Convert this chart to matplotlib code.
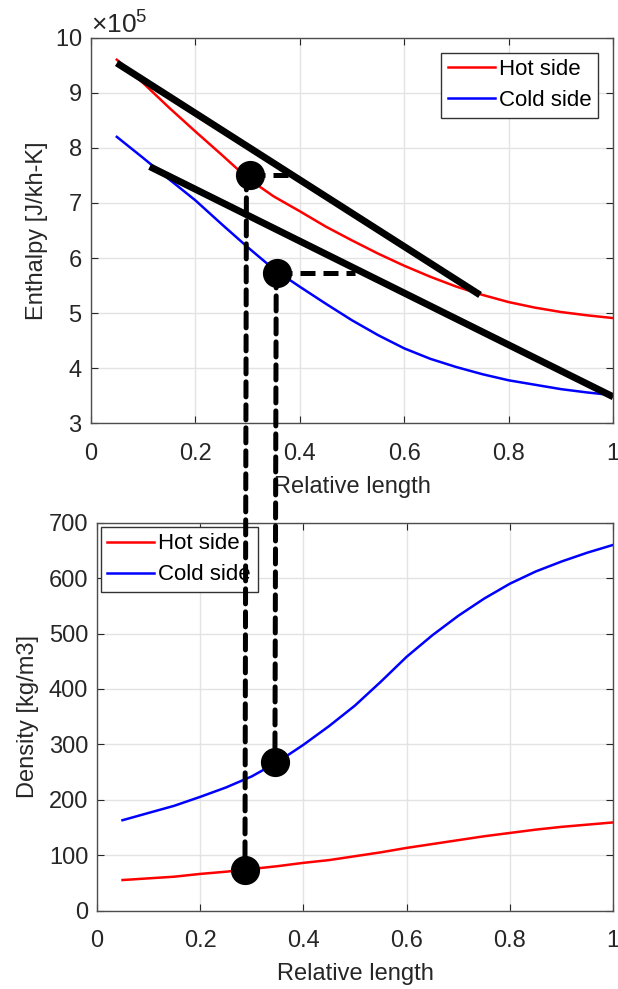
import matplotlib.pyplot as plt
from matplotlib.patches import ConnectionPatch
from matplotlib.ticker import ScalarFormatter

plt.rcParams["font.family"] = ["Liberation Sans", "DejaVu Sans"]
plt.rcParams["mathtext.fontset"] = "custom"
plt.rcParams["mathtext.rm"] = "Liberation Sans"

# relative length positions
x = [0.05, 0.10, 0.15, 0.20, 0.25, 0.30, 0.35, 0.40, 0.45, 0.50,
     0.55, 0.60, 0.65, 0.70, 0.75, 0.80, 0.85, 0.90, 0.95, 1.00]

# enthalpy (x 1e5)
hot_enthalpy = [9.60, 9.18, 8.73, 8.30, 7.88, 7.45, 7.12, 6.85, 6.57, 6.32,
                6.08, 5.86, 5.66, 5.48, 5.33, 5.20, 5.10, 5.02, 4.96, 4.91]
cold_enthalpy = [8.20, 7.82, 7.43, 7.05, 6.62, 6.20, 5.80, 5.48, 5.17, 4.87,
                 4.60, 4.36, 4.17, 4.02, 3.89, 3.78, 3.70, 3.62, 3.56, 3.51]

# density [kg/m3]
hot_density = [55, 58, 61, 66, 70, 75, 80, 86, 91, 98,
               105, 113, 120, 127, 134, 140, 146, 151, 155, 159]
cold_density = [163, 176, 189, 205, 222, 242, 268, 299, 333, 370,
                413, 458, 497, 532, 563, 590, 612, 630, 646, 660]

# thick black guide lines on the enthalpy plot
guide1_x, guide1_y = [0.05, 0.745], [9.54, 5.33]
guide2_x, guide2_y = [0.113, 1.0], [7.66, 3.48]

# marked points
pt_enth_x = [0.305, 0.356]
pt_enth_y = [7.51, 5.73]
pt_enth_end_x = [0.381, 0.506]
link_top_x = [0.298, 0.355]
pt_dens_x = [0.287, 0.345]
pt_dens_y = [74, 268]

scale = 1e5
txt = "#262626"
W, H = 618, 989
fig = plt.figure(figsize=(W / 100, H / 100), dpi=100)
ax1 = fig.add_axes([90.7 / W, 1 - 423.3 / H, 522.6 / W, 385.6 / H])
ax2 = fig.add_axes([96.7 / W, 1 - 910.5 / H, 516.6 / W, 387.8 / H])

for ax in (ax1, ax2):
    ax.grid(True, color="#e3e3e3", linewidth=1)
    ax.set_axisbelow(True)
    ax.tick_params(direction="in", top=True, right=True, length=5,
                   labelsize=17, colors=txt)
    ax.tick_params(axis="x", pad=14)
    ax.tick_params(axis="y", pad=6)
    for s in ax.spines.values():
        s.set_color("#4d4d4d")
        s.set_linewidth(1)
    ax.set_xlim(0, 1)
    ax.set_xticks([0, 0.2, 0.4, 0.6, 0.8, 1])
    ax.set_xticklabels(["0", "0.2", "0.4", "0.6", "0.8", "1"])
    ax.set_xlabel("Relative length", fontsize=17, color=txt, labelpad=8)

legend_style = dict(fontsize=16, handlelength=2.1, handletextpad=0.2, fancybox=False,
                    framealpha=1, edgecolor="#333333", borderpad=0.3, labelspacing=0.45)

# enthalpy plot
ax1.plot(x, [v * scale for v in hot_enthalpy], color="red", lw=1.8, label="Hot side")
ax1.plot(x, [v * scale for v in cold_enthalpy], color="blue", lw=1.8, label="Cold side")
ax1.plot(guide1_x, [v * scale for v in guide1_y], color="black", lw=5, solid_capstyle="butt")
ax1.plot(guide2_x, [v * scale for v in guide2_y], color="black", lw=5, solid_capstyle="butt")
for px, py, ex in zip(pt_enth_x, pt_enth_y, pt_enth_end_x):
    ax1.plot([px, ex], [py * scale, py * scale], color="black", lw=3.6,
             linestyle=(0, (3, 1.6)))
    ax1.plot(px, py * scale, "o", color="black", markersize=20)
ax1.set_ylim(3 * scale, 10 * scale)
ax1.set_yticks([v * scale for v in range(3, 11)])
fmt = ScalarFormatter(useMathText=True)
fmt.set_powerlimits((5, 5))
ax1.yaxis.set_major_formatter(fmt)
ax1.yaxis.get_offset_text().set_fontsize(19)
ax1.yaxis.get_offset_text().set_color(txt)
ax1.set_ylabel("Enthalpy [J/kh-K]", fontsize=17, color=txt, labelpad=5)
leg1 = ax1.legend(loc="upper right", borderaxespad=0.67, **legend_style)
leg1.get_frame().set_linewidth(1)

# density plot
ax2.plot(x, hot_density, color="red", lw=1.8, label="Hot side")
ax2.plot(x, cold_density, color="blue", lw=1.8, label="Cold side")
ax2.plot(pt_dens_x, pt_dens_y, "o", color="black", markersize=20, linestyle="none")
ax2.set_ylim(0, 700)
ax2.set_yticks(range(0, 701, 100))
ax2.set_ylabel("Density [kg/m3]", fontsize=17, color=txt, labelpad=7)
leg2 = ax2.legend(loc="upper left", borderaxespad=0.18, **legend_style)
leg2.get_frame().set_linewidth(1)

# dashed links from enthalpy points down to density points
for tx, ty, bx, by in zip(link_top_x, pt_enth_y, pt_dens_x, pt_dens_y):
    con = ConnectionPatch(xyA=(tx, ty * scale), coordsA=ax1.transData,
                          xyB=(bx, by), coordsB=ax2.transData,
                          color="black", lw=3.6, linestyle=(0, (3, 1.6)))
    fig.add_artist(con)

fig.savefig("out.png", dpi=100)
